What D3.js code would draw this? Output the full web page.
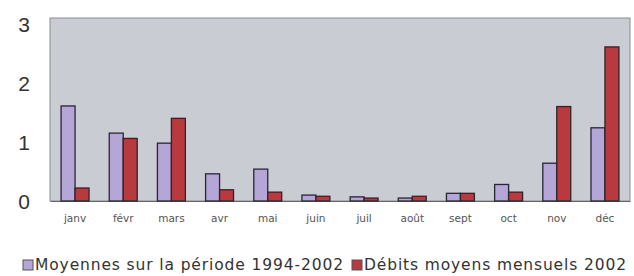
<!DOCTYPE html>
<html><head><meta charset="utf-8">
<script src="https://cdn.jsdelivr.net/npm/d3@7"></script>
<style>body{margin:0;background:#fff;} svg{display:block;}</style>
</head><body>
<svg id="c" width="634" height="276"></svg>
<script>
const categories = ["janv","févr","mars","avr","mai","juin","juil","août","sept","oct","nov","déc"];
const moyennes = [1.61,1.15,0.98,0.46,0.54,0.10,0.07,0.05,0.13,0.28,0.64,1.24];
const debits2002 = [0.22,1.06,1.40,0.19,0.15,0.08,0.05,0.08,0.13,0.15,1.60,2.61];
const seriesNames = ["Moyennes sur la période 1994-2002","Débits moyens mensuels 2002"];
const yTicks = [0,1,2,3];
const colors = ["#b4a6d6","#b8393e"];

const svg = d3.select("#c");
const m = {left:50, right:4, top:18, bottom:75};
const W = 634, H = 276;
const x0 = d3.scaleBand().domain(categories).range([m.left, W-m.right]).paddingInner(0.42).paddingOuter(0.23);
const x1 = d3.scaleBand().domain([0,1]).range([0, x0.bandwidth()]);
const y = d3.scaleLinear().domain([0,3.1]).range([H-m.bottom, m.top]);

svg.append("rect").attr("x",m.left).attr("y",m.top).attr("width",W-m.right-m.left).attr("height",H-m.bottom-m.top)
  .attr("fill","#c9ccd2").attr("stroke","#8a8c90").attr("stroke-width",1);

const yAxis = svg.append("g").attr("transform",`translate(${m.left},0)`)
  .call(d3.axisLeft(y).tickValues(yTicks).tickFormat(d3.format("d")).tickSize(0));
yAxis.select(".domain").remove();
yAxis.selectAll("text").attr("font-family","Liberation Sans, Arial, sans-serif").attr("font-size",21).attr("fill","#333").attr("dy","0.36em").attr("text-anchor","middle").attr("x",-26);

const xAxis = svg.append("g").attr("transform",`translate(0,${H-m.bottom})`)
  .call(d3.axisBottom(x0).tickSize(0).tickPadding(14));
xAxis.select(".domain").attr("stroke","#666");
xAxis.selectAll("text").attr("font-family","DejaVu Sans, sans-serif").attr("font-size",10.5).attr("fill","#555");

const data = categories.map((c,i)=>({c, v:[moyennes[i], debits2002[i]]}));
const g = svg.append("g").selectAll("g").data(data).join("g").attr("transform",d=>`translate(${x0(d.c)},0)`);
g.selectAll("rect").data(d=>d.v.map((v,k)=>({v,k}))).join("rect")
  .attr("x",d=>x1(d.k)).attr("width",x1.bandwidth())
  .attr("y",d=>y(d.v)).attr("height",d=>y(0)-y(d.v))
  .attr("fill",d=>colors[d.k]).attr("stroke","#2a2630").attr("stroke-width",1.3);

const leg = svg.append("g").attr("font-family","DejaVu Sans, sans-serif").attr("font-size",15.5).attr("fill","#333");
const legX = [23, 352];
const legLen = [308, 262];
seriesNames.forEach((n,k)=>{
  leg.append("rect").attr("x",legX[k]).attr("y",260).attr("width",10).attr("height",10).attr("fill",colors[k]).attr("stroke","#555");
  leg.append("text").attr("x",legX[k]+12).attr("y",270).attr("textLength",legLen[k]).attr("lengthAdjust","spacing").text(n);
});
</script>
</body></html>
